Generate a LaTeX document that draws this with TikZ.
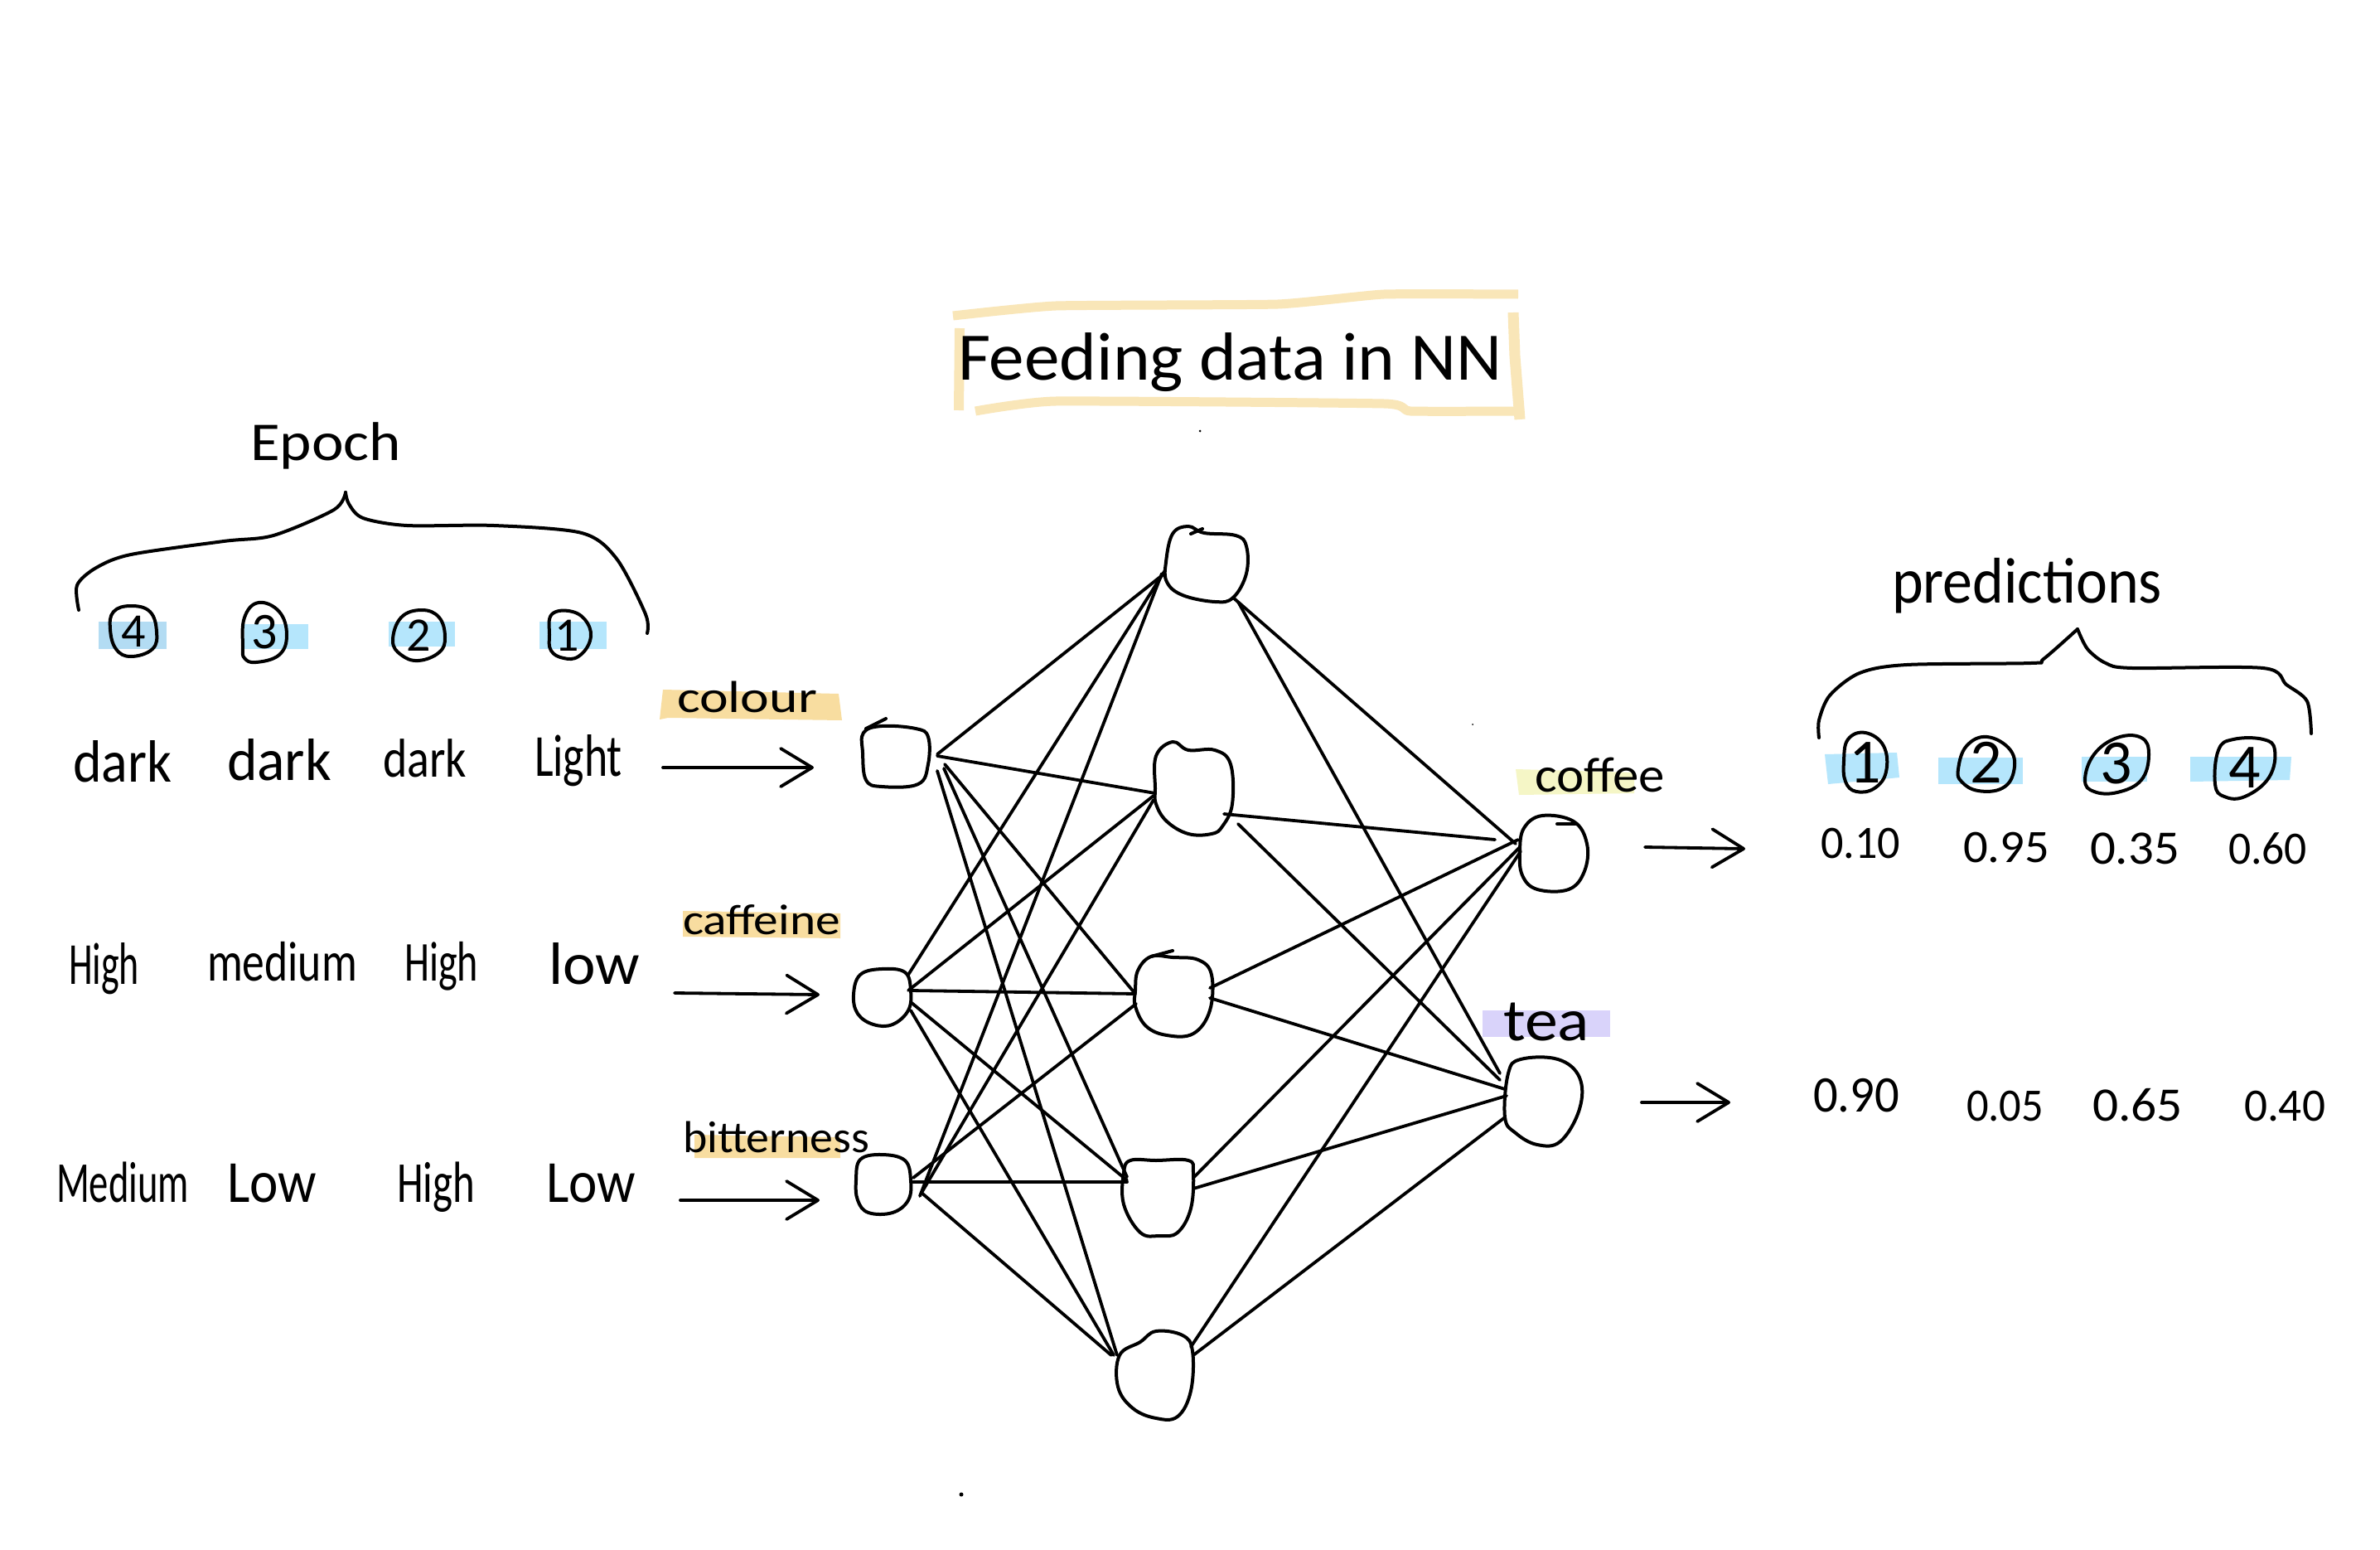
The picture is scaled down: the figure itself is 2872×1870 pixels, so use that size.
\documentclass[tikz,border=0pt]{standalone}
\usepackage{graphicx}
\usepackage{fontspec}
\setmainfont{Carlito}
\usetikzlibrary{arrows.meta}
\definecolor{hlblue}{HTML}{B5E6FC}
\definecolor{hlblued}{HTML}{B3DCF3}
\definecolor{hlorange}{HTML}{F8DDA0}
\definecolor{hlbox}{HTML}{F9E6B8}
\definecolor{hlyellow}{HTML}{F5F6C6}
\definecolor{hlviolet}{HTML}{D9D3FA}
\tikzset{
  x=1pt,y=-1pt,
  inkline/.style={line width=4pt,line cap=round,line join=round,black},
  wirel/.style={line width=3.8pt,line cap=round,black},
  harrow/.style={line width=3.8pt,line cap=round,line join=round,black,-{Straight Barb[round,length=38pt,width=46pt]}},
  anchorn/.style={rectangle,inner sep=0pt,outer sep=0pt},
  hwt/.style={anchor=base west,inner sep=0pt,outer sep=0pt},
  boxstrip/.style={hlbox,line width=11pt,line cap=butt,line join=round},
}
% name, left x, right x, baseline y, font size, text
\newcommand\hw[6]{\node[hwt] (#1) at (#2,#4) {\resizebox{\numexpr#3-#2\relax pt}{\height}{\fontsize{#5}{#5}\selectfont #6}};}
% name, cx, cy, w, h, outline points
\newcommand\blob[6]{\node[anchorn,minimum width=#4pt,minimum height=#5pt] (#1) at (#2,#3) {};
  \draw[inkline] plot[smooth cycle,tension=.65] coordinates {#6};}
% name, cx, cy, text, size, outline points
\newcommand\numb[6]{\node[anchorn,font=\fontsize{#5}{#5}\selectfont] (#1) at (#2,#3) {#4};
  \draw[inkline] plot[smooth cycle,tension=.7] coordinates {#6};}
\newcommand\wire[7][wirel]{\draw[#1] ([shift={(#3,#4)}]#2) -- ([shift={(#6,#7)}]#5);}
\begin{document}
\begin{tikzpicture}
\useasboundingbox (0,0) rectangle (2872,1870);
\fill[white] (0,0) rectangle (2872,1870);
% highlights
\fill[hlblued] (119,750) rectangle (201,783);
\fill[hlblue] (295,753) rectangle (372,783);
\fill[hlblue] (469,750) rectangle (549,780);
\fill[hlblue] (651,750) rectangle (732,783);
\fill[hlorange] (800,832) -- (1012,837) -- (1016,869) -- (806,866) -- (796,868) -- cycle;
\fill[hlorange] (824,1099) -- (1014,1102) -- (1014,1132) -- (824,1130) -- cycle;
\fill[hlorange] (838,1369) -- (1014,1372) -- (1014,1397) -- (838,1397) -- cycle;
\fill[hlyellow] (1829,928) -- (1972,932) -- (1972,957) -- (1833,959) -- cycle;
\fill[hlviolet] (1789,1219) rectangle (1943,1251);
\fill[hlblue] (2202,910) -- (2289,908) -- (2292,938) -- (2206,946) -- cycle;
\fill[hlblue] (2339,914) rectangle (2441,946);
\fill[hlblue] (2512,913) rectangle (2591,943);
\fill[hlblue] (2643,913) -- (2765,913) -- (2763,941) -- (2643,943) -- cycle;
% title box
\draw[boxstrip] plot[smooth,tension=.25] coordinates {(1150,381) (1274,369) (1542,367) (1670,355) (1832,355)};
\draw[boxstrip] plot[smooth,tension=.25] coordinates {(1177,496) (1274,484) (1670,487) (1702,496) (1839,496)};
\draw[boxstrip,line width=12pt] (1158,396) -- (1157,495);
\draw[boxstrip,line width=13pt] (1826,377) -- (1828,430) -- (1834,506);
% title and headings
\hw{title}{1156}{1813}{458}{82}{Feeding data in NN}
\hw{epoch}{302}{484}{555}{66}{Epoch}
\hw{pred}{2283}{2609}{727}{78}{predictions}
% braces
\draw[inkline] plot[smooth,tension=.5] coordinates {(95,736) (93,706) (116,685) (158,669) (270,653) (330,646) (403,615) (417,594)};
\draw[inkline] plot[smooth,tension=.5] coordinates {(417,594) (421,608) (438,625) (491,634) (596,634) (702,643) (744,674) (779,741) (781,764)};
\draw[inkline] plot[smooth,tension=.5] coordinates {(2195,890) (2195,869) (2208,839) (2244,812) (2301,802) (2451,800) (2466,795) (2507,759)};
\draw[inkline] plot[smooth,tension=.5] coordinates {(2507,759) (2519,783) (2541,800) (2573,806) (2731,806) (2759,826) (2784,846) (2789,885)};
% epoch numbers
\numb{ea}{161}{762}{4}{58}{(133,759) (137,738) (158,731) (181,738) (189,762) (184,783) (158,792) (140,783)}
\numb{eb}{319}{763}{3}{62}{(293,780) (295,745) (312,727) (337,738) (346,766) (337,790) (309,799) (295,794)}
\numb{ec}{505}{767}{2}{58}{(474,773) (484,745) (509,736) (530,745) (537,769) (530,787) (505,797) (484,790)}
\numb{ed}{684}{767}{1}{58}{(663,766) (666,741) (691,738) (709,752) (712,773) (698,792) (680,794) (665,785)}
\numb{pa}{2251}{920}{1}{76}{(2225,918) (2230,892) (2251,884) (2273,900) (2276,931) (2262,951) (2240,955) (2227,943)}
\numb{pb}{2397}{920}{2}{76}{(2363,928) (2373,900) (2398,889) (2426,905) (2430,931) (2416,951) (2387,954) (2367,943)}
\numb{pc}{2554}{921}{3}{76}{(2516,941) (2527,910) (2555,890) (2584,890) (2593,910) (2584,941) (2555,956) (2527,955)}
\numb{pd}{2709}{926}{4}{76}{(2673,946) (2677,905) (2695,892) (2731,892) (2745,905) (2738,938) (2709,961) (2684,961)}
% table
\hw{ra}{88}{207}{943}{72}{dark}
\hw{rb}{274}{400}{941}{72}{dark}
\hw{rc}{462}{563}{937}{66}{dark}
\hw{rd}{645}{751}{936}{72}{Light}
\hw{sa}{83}{168}{1187}{72}{High}
\hw{sb}{250}{431}{1183}{68}{medium}
\hw{sc}{488}{577}{1183}{68}{High}
\hw{sd}{662}{772}{1187}{72}{low}
\hw{ta}{68}{228}{1450}{70}{Medium}
\hw{tb}{274}{382}{1450}{72}{Low}
\hw{tc}{479}{573}{1450}{70}{High}
\hw{td}{659}{767}{1450}{72}{Low}
% feature labels
\hw{colour}{817}{986}{859}{54}{colour}
\hw{caffeine}{824}{1014}{1127}{52}{caffeine}
\hw{bitter}{824}{1049}{1390}{54}{bitterness}
\hw{coffee}{1852}{2009}{955}{60}{coffee}
\hw{tea}{1814}{1918}{1255}{72}{tea}
% values
\hw{va}{2197}{2293}{1035}{56}{0.10}
\hw{vb}{2369}{2473}{1040}{56}{0.95}
\hw{vc}{2522}{2630}{1042}{58}{0.35}
\hw{vd}{2689}{2784}{1042}{56}{0.60}
\hw{ve}{2188}{2292}{1341}{62}{0.90}
\hw{vf}{2373}{2466}{1352}{56}{0.05}
\hw{vg}{2525}{2634}{1352}{58}{0.65}
\hw{vh}{2708}{2806}{1352}{56}{0.40}
% network nodes
\blob{i1}{1080}{911}{81}{75}{(1041,908) (1042,884) (1064,876) (1105,879) (1120,889) (1120,922) (1108,946) (1064,949) (1045,941)}
\blob{i2}{1064}{1203}{69}{69}{(1030,1200) (1038,1176) (1064,1169) (1092,1173) (1099,1195) (1096,1219) (1077,1236) (1054,1236) (1035,1223)}
\blob{i3}{1066}{1427}{66}{72}{(1033,1424) (1038,1399) (1064,1393) (1092,1400) (1099,1424) (1096,1448) (1077,1463) (1048,1463) (1035,1448)}
\blob{h1}{1455}{680}{97}{91}{(1407,678) (1415,644) (1434,635) (1453,643) (1491,646) (1504,659) (1504,692) (1488,721) (1466,726) (1427,718) (1408,702)}
\blob{h2}{1440}{950}{93}{111}{(1394,951) (1395,912) (1415,895) (1434,905) (1466,905) (1485,922) (1487,970) (1475,997) (1462,1006) (1434,1006) (1408,991) (1395,970)}
\blob{h3}{1416}{1199}{92}{99}{(1370,1195) (1373,1171) (1389,1154) (1415,1155) (1446,1158) (1462,1176) (1460,1219) (1440,1247) (1408,1249) (1383,1238) (1370,1214)}
\blob{h4}{1398}{1445}{85}{92}{(1356,1415) (1364,1400) (1395,1400) (1434,1400) (1440,1415) (1437,1458) (1421,1487) (1399,1491) (1376,1487) (1356,1453)}
\blob{h5}{1394}{1658}{90}{105}{(1351,1635) (1376,1619) (1395,1606) (1427,1611) (1439,1630) (1437,1678) (1421,1709) (1395,1711) (1367,1699) (1349,1673)}
\blob{o1}{1875}{1028}{81}{89}{(1834,1027) (1839,999) (1861,984) (1899,991) (1915,1018) (1912,1051) (1893,1073) (1855,1073) (1837,1056)}
\blob{o2}{1862}{1328}{91}{105}{(1816,1348) (1820,1295) (1835,1278) (1880,1278) (1906,1300) (1906,1338) (1883,1377) (1855,1381) (1829,1367)}
% overshoot ticks
\draw[inkline] ([shift={(-11,-44)}]i1.center) -- ([shift={(-35,-32)}]i1.center);
\draw[inkline] ([shift={(-18,-36)}]h1.center) -- ([shift={(-4,-42)}]h1.center);
\draw[inkline] ([shift={(-27,-45)}]h3.center) -- ([shift={(-1,-52)}]h3.center);
\draw[inkline] ([shift={(4,-34)}]o1.center) -- ([shift={(27,-34)}]o1.center);
% wires
\wire{i1.center}{51}{-1}{h1.center}{-50}{12}
\wire{i1.center}{51}{1}{h2.center}{-46}{7}
\wire{i1.center}{60}{11}{h3.center}{-46}{0}
\wire{i1.center}{59}{16}{h4.center}{-38}{-25}
\wire{i1.center}{51}{19}{h5.center}{-46}{-23}
\wire{i2.center}{32}{-27}{h1.center}{-49}{8}
\wire{i2.center}{32}{-8}{h2.center}{-48}{10}
\wire{i2.center}{35}{-8}{h3.center}{-46}{0}
\wire{i2.center}{35}{6}{h4.center}{-38}{-21}
\wire{i2.center}{35}{16}{h5.center}{-50}{-23}
\wire{i3.center}{44}{16}{h1.center}{-53}{12}
\wire{i3.center}{46}{12}{h2.center}{-48}{15}
\wire{i3.center}{36}{-6}{h3.center}{-45}{12}
\wire{i3.center}{36}{-1}{h4.center}{-38}{-19}
\wire{i3.center}{46}{12}{h5.center}{-53}{-23}
\wire{h1.center}{33}{41}{o1.center}{-46}{-10}
\wire{h1.center}{39}{46}{o2.center}{-52}{-33}
\wire{h2.center}{37}{32}{o1.center}{-71}{-15}
\wire{h2.center}{54}{44}{o2.center}{-52}{-25}
\wire{h3.center}{44}{-7}{o1.center}{-43}{-15}
\wire{h3.center}{44}{5}{o2.center}{-46}{-14}
\wire{h4.center}{42}{-24}{o1.center}{-41}{-6}
\wire{h4.center}{42}{-11}{o2.center}{-44}{-6}
\wire{h5.center}{43}{-33}{o1.center}{-40}{-1}
\wire{h5.center}{46}{-23}{o2.center}{-46}{20}
% arrows
\wire[harrow]{rd.base east}{49}{-10}{i1.center}{-98}{15}
\wire[harrow]{sd.base east}{42}{11}{i2.center}{-75}{-3}
\wire[harrow]{td.base east}{54}{-2}{i3.center}{-77}{21}
\wire[harrow]{o1.center}{110}{-6}{va.base west}{-91}{-11}
\wire[harrow]{o2.center}{119}{2}{ve.base west}{-100}{-11}
% specks
\fill (1448,520) circle (1.5);
\fill (1777,874) circle (1);
\fill (1160,1803) circle (2.5);
\end{tikzpicture}
\end{document}
